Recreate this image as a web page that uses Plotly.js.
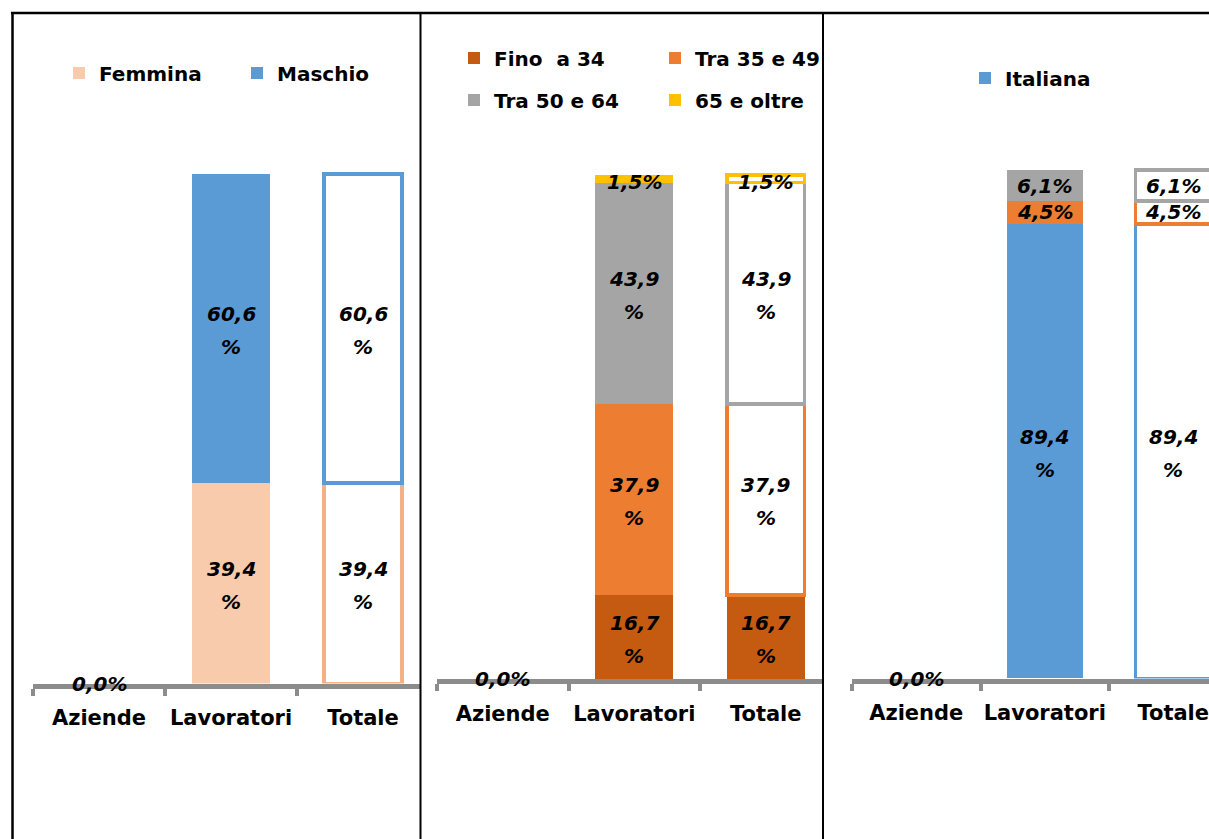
<!DOCTYPE html>
<html><head><meta charset="utf-8">
<script src="https://cdn.plot.ly/plotly-3.0.1.min.js"></script>
<style>html,body{margin:0;padding:0;background:#fff}#chart{width:1209px;height:839px}</style>
</head><body><div id="chart"></div>
<script>
// ---------- DATA ----------
const categories = ['Aziende', 'Lavoratori', 'Totale'];

// Panel 1 – sesso
const sexNames = ['Femmina', 'Maschio'];
const femmina = [0, 39.4, 39.4];
const maschio = [0, 60.6, 60.6];

// Panel 2 – classi di età
const ageNames = ['Fino  a 34', 'Tra 35 e 49', 'Tra 50 e 64', '65 e oltre'];
const fino34 = [0, 16.7, 16.7];
const tra3549 = [0, 37.9, 37.9];
const tra5064 = [0, 43.9, 43.9];
const oltre65 = [0, 1.5, 1.5];

// Panel 3 – nazionalità
const natNames = ['Italiana', 'Comunitaria', 'Extracomunitaria'];
const italiana = [0, 89.4, 89.4];
const comunitaria = [0, 4.5, 4.5];
const extracom = [0, 6.1, 6.1];

// ---------- STYLE / LAYOUT ----------
const W = 1209, H = 839;
const px = x => x / W;
const py = y => 1 - y / H;
const FONT = 'DejaVu Sans';

const panels = [
  {x0: 33, step: 132, x1: 420, base: 683.5, top: 174, standoff: 11,
   series: [{name: sexNames[0], y: femmina, color: '#F8CBAD', edge: '#F4B183', fillTot: false, leg: true},
            {name: sexNames[1], y: maschio, color: '#5B9BD5', edge: '#5B9BD5', fillTot: false, leg: true}],
   legPos: [[97, 73], [275, 73]]},
  {x0: 437, step: 131.5, x1: 823, base: 679, top: 175, standoff: 12,
   series: [{name: ageNames[0], y: fino34, color: '#C55A11', edge: '#C55A11', fillTot: true, leg: true},
            {name: ageNames[1], y: tra3549, color: '#ED7D31', edge: '#ED7D31', fillTot: false, leg: true},
            {name: ageNames[2], y: tra5064, color: '#A5A5A5', edge: '#A5A5A5', fillTot: false, leg: true},
            {name: ageNames[3], y: oltre65, color: '#FFC000', edge: '#FFC000', fillTot: false, leg: true}],
   legPos: [[492, 58], [693, 58], [492, 100], [693, 100]]},
  {x0: 852, step: 128.5, x1: 1209, base: 678.5, top: 170, standoff: 11,
   series: [{name: natNames[0], y: italiana, color: '#5B9BD5', edge: '#5B9BD5', fillTot: false, leg: true},
            {name: natNames[1], y: comunitaria, color: '#ED7D31', edge: '#ED7D31', fillTot: false, leg: false},
            {name: natNames[2], y: extracom, color: '#A5A5A5', edge: '#A5A5A5', fillTot: false, leg: false}],
   legPos: [[1003, 78]]}
];

const num = v => v.toFixed(1).replace('.', ',');
const labelFont = {family: FONT, size: 20, weight: 'bold', style: 'italic', color: '#000'};

const traces = [];
const layout = {
  width: W, height: H,
  margin: {l: 0, r: 0, t: 0, b: 0},
  paper_bgcolor: '#fff', plot_bgcolor: 'rgba(0,0,0,0)',
  barmode: 'stack', bargap: 0.41,
  showlegend: true,
  font: {family: FONT, color: '#000'},
  annotations: [], shapes: []
};

let legIdx = 0;
panels.forEach((p, i) => {
  const n = i + 1;
  const xa = n === 1 ? 'x' : 'x' + n, ya = n === 1 ? 'y' : 'y' + n;
  const xKey = n === 1 ? 'xaxis' : 'xaxis' + n, yKey = n === 1 ? 'yaxis' : 'yaxis' + n;
  const unit = (p.base - p.top) / 100;
  const yMax = 110;
  const topPx = p.base - yMax * unit;
  layout[xKey] = {
    domain: [px(p.x0), px(p.x1)], anchor: ya,
    range: [-0.5, -0.5 + (p.x1 - p.x0) / p.step],
    type: 'category', categoryorder: 'array', categoryarray: categories,
    showline: true, linecolor: '#8C8C8C', linewidth: 5,
    ticks: 'outside', tickson: 'boundaries', ticklen: 7, tickwidth: 4, tickcolor: '#8C8C8C',
    tickfont: {family: FONT, size: 21, weight: 'bold', color: '#000'},
    tickangle: 0, ticklabelstandoff: p.standoff,
    showgrid: false, zeroline: false, fixedrange: true
  };
  layout[yKey] = {
    domain: [py(p.base), py(topPx)], anchor: xa,
    range: [0, yMax], visible: false, fixedrange: true
  };

  const cum = categories.map(() => 0);
  p.series.forEach((s, k) => {
    let legendId = null;
    if (s.leg) { legIdx++; legendId = legIdx === 1 ? 'legend' : 'legend' + legIdx; }
    traces.push({
      type: 'bar', name: s.name, x: categories, y: s.y,
      xaxis: xa, yaxis: ya,
      legend: legendId || 'legend', showlegend: !!s.leg,
      marker: {
        color: s.y.map((v, j) => (j === 2 && !s.fillTot) ? '#FFFFFF' : s.color),
        line: {color: s.edge, width: s.y.map((v, j) => (j === 2 && !s.fillTot) ? 3.5 : 0)}
      },
      hoverinfo: 'skip'
    });
    if (s.leg) {
      const [tx, ty] = p.legPos[k];
      layout[legendId] = {
        x: px(tx - 38), y: py(ty), xanchor: 'left', yanchor: 'middle',
        bgcolor: 'rgba(0,0,0,0)', borderwidth: 0,
        font: {family: FONT, size: 20, weight: 'bold', color: '#000'}
      };
    }
    s.y.forEach((v, j) => {
      if (j > 0) {
        const mid = cum[j] + v / 2;
        if (v >= 10) {
          layout.annotations.push({xref: xa, yref: ya, x: categories[j], y: mid,
            text: num(v), showarrow: false, font: labelFont,
            xanchor: 'center', yanchor: 'middle', yshift: 14});
          layout.annotations.push({xref: xa, yref: ya, x: categories[j], y: mid,
            text: '%', showarrow: false, font: labelFont,
            xanchor: 'center', yanchor: 'middle', yshift: -19});
        } else {
          layout.annotations.push({xref: xa, yref: ya, x: categories[j], y: mid,
            text: num(v) + '%', showarrow: false, font: labelFont,
            xanchor: 'center', yanchor: 'middle', yshift: v < 3 ? -3 : 0});
        }
      }
      cum[j] += v;
    });
  });
  layout.annotations.push({
    xref: xa, yref: ya, x: categories[0], y: p.series[0].y[0],
    text: num(p.series[0].y[0]) + '%', showarrow: false, font: labelFont,
    xanchor: 'center', yanchor: 'middle', yshift: 0
  });
});

const L = (x0, y0, x1, y1, w) => ({type: 'line', xref: 'paper', yref: 'paper',
  x0: px(x0), y0: py(y0), x1: px(x1), y1: py(y1), line: {color: '#000', width: w}});
layout.shapes.push(L(11, 13, 1209, 13, 2.5));
layout.shapes.push(L(12.5, 13, 12.5, 839, 2.5));
layout.shapes.push(L(420.5, 13, 420.5, 839, 2));
layout.shapes.push(L(823, 13, 823, 839, 2));

Plotly.newPlot('chart', traces, layout, {staticPlot: true, displayModeBar: false});
</script>
</body></html>
